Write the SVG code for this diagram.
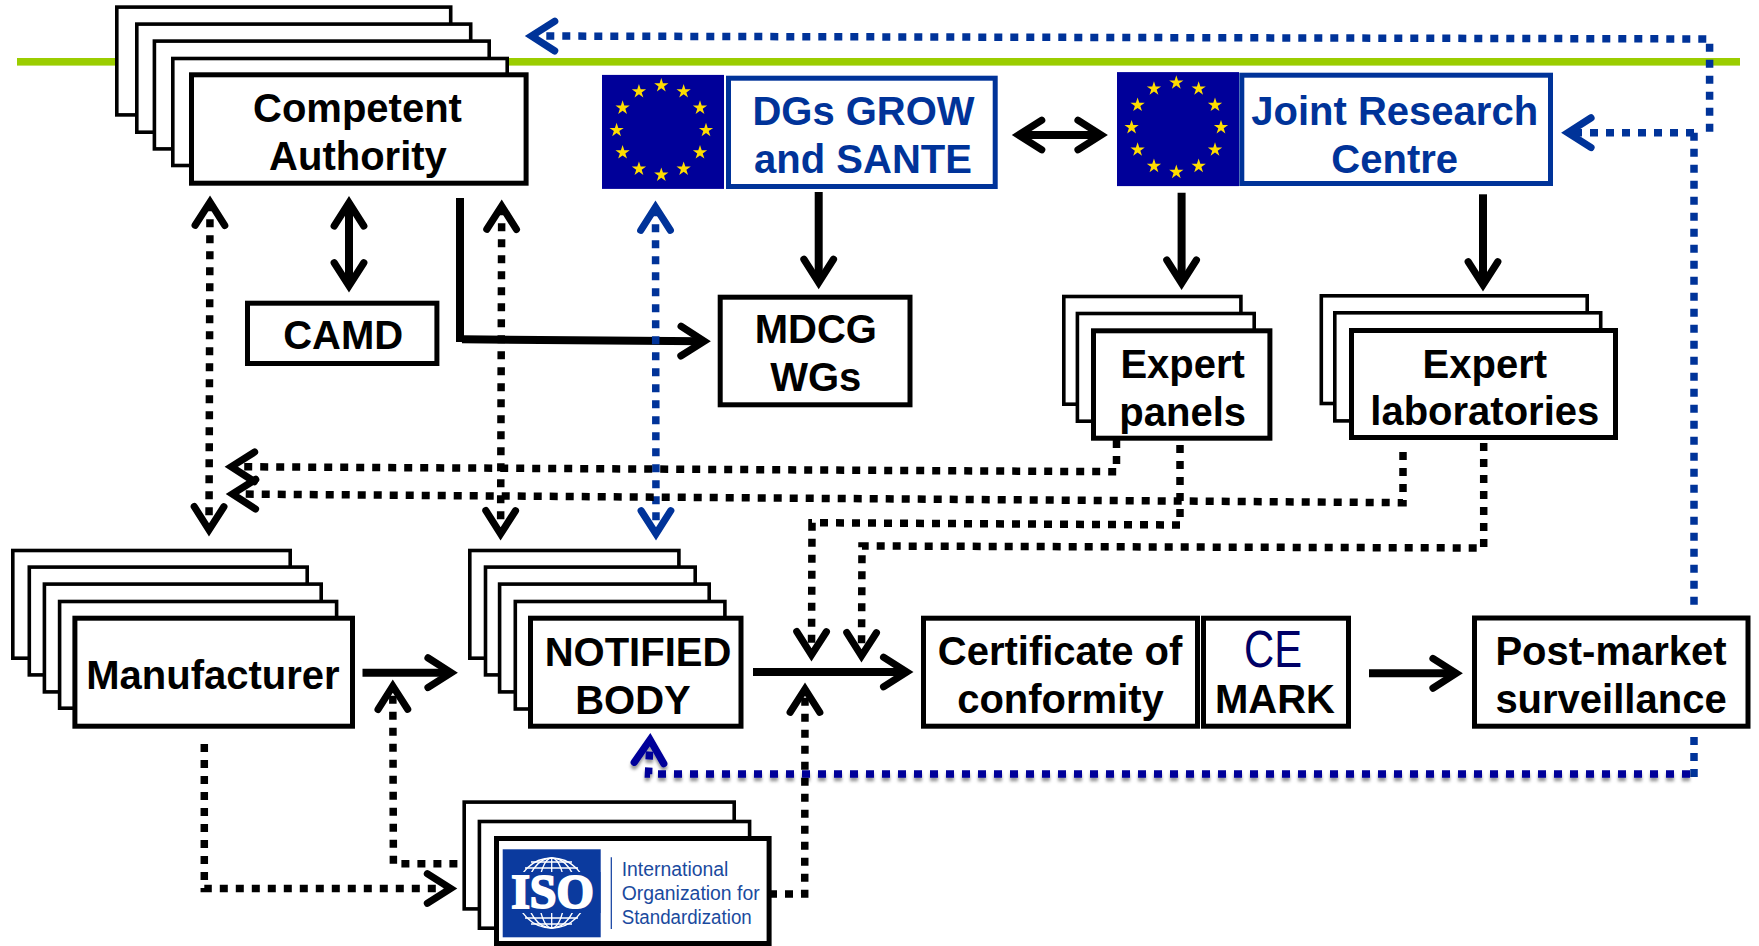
<svg xmlns="http://www.w3.org/2000/svg" width="1759" height="946" viewBox="0 0 1759 946">
<style>
.b{fill:#fff;stroke:#000;stroke-width:3.6}
.f{fill:#fff;stroke:#000;stroke-width:5}
.e{fill:#fff;stroke:#003399;stroke-width:5}
.t{font:bold 40px "Liberation Sans",Arial,sans-serif;fill:#000;text-anchor:middle}
.tb{fill:#003399}
.iso{font:19.4px "Liberation Sans",Arial,sans-serif;fill:#1a4a9e}
.c{fill:none;stroke-linejoin:miter}
.sk{stroke:#000;stroke-width:8}
.sb{stroke:#000;stroke-width:7.5;stroke-dasharray:8 8}
.sn{stroke:#003399;stroke-width:7.5;stroke-dasharray:8 8}
.sv{stroke:#000099;stroke-width:7.5;stroke-dasharray:8 8}
.ak{marker-end:url(#hk)}
.akk{marker-start:url(#hk);marker-end:url(#hk)}
.ann{marker-start:url(#hn);marker-end:url(#hn)}
.an{marker-end:url(#hn)}
.av{marker-end:url(#hv)}
</style>
<defs>
<marker id="hk" markerUnits="userSpaceOnUse" viewBox="-40 -20 44 40" markerWidth="44" markerHeight="40" refX="-8" refY="0" orient="auto-start-reverse"><path d="M-30,-14.8 L-6.8,0 L-30,14.8" fill="none" stroke="#000" stroke-width="7.2" stroke-linecap="round"/></marker>
<marker id="hn" markerUnits="userSpaceOnUse" viewBox="-40 -20 44 40" markerWidth="44" markerHeight="40" refX="-8" refY="0" orient="auto-start-reverse"><path d="M-30,-14.8 L-6.8,0 L-30,14.8" fill="none" stroke="#003399" stroke-width="7.2" stroke-linecap="round"/></marker>
<marker id="hv" markerUnits="userSpaceOnUse" viewBox="-40 -20 44 40" markerWidth="44" markerHeight="40" refX="-8" refY="0" orient="auto-start-reverse"><path d="M-30,-14.8 L-6.8,0 L-30,14.8" fill="none" stroke="#000099" stroke-width="7.2" stroke-linecap="round"/></marker>
<filter id="sh" filterUnits="userSpaceOnUse" x="0" y="0" width="1759" height="946"><feDropShadow dx="0" dy="3.5" stdDeviation="1.6" flood-color="#000" flood-opacity=".4"/></filter>
<polygon id="s" fill="#ffdd00" points="0,-7.5 1.69,-2.32 7.13,-2.32 2.73,.89 4.41,6.07 0,2.87 -4.41,6.07 -2.73,.89 -7.13,-2.32 -1.69,-2.32"/>
<g id="flag">
<rect x="-59.3" y="-55.3" width="122" height="114" fill="#000099"/>
<use href="#s" x="0" y="-44.7"/><use href="#s" x="22.35" y="-38.7"/><use href="#s" x="38.7" y="-22.35"/><use href="#s" x="44.7" y="0"/><use href="#s" x="38.7" y="22.35"/><use href="#s" x="22.35" y="38.7"/><use href="#s" x="0" y="44.7"/><use href="#s" x="-22.35" y="38.7"/><use href="#s" x="-38.7" y="22.35"/><use href="#s" x="-44.7" y="0"/><use href="#s" x="-38.7" y="-22.35"/><use href="#s" x="-22.35" y="-38.7"/>
</g>
</defs>

<rect id="green-line" x="17" y="58" width="1723" height="7.6" fill="#9bcd00"/>

<g id="connectors" class="c">
<path class="sk ak" d="M818.7,192 V281.3"/>
<path class="sk ak" d="M1181.6,192.7 V282"/>
<path class="sk ak" d="M1483,194.3 V283.7"/>
<path class="sk akk" d="M1019.7,135 H1100"/>
<path class="sk akk" d="M349,204 V284.7"/>
<path class="sk" d="M460,198 V342"/>
<path class="sk ak" d="M462,339.3 L703,341.3"/>
<path class="sk ak" d="M362.5,672.7 H450"/>
<path class="sk ak" d="M753,672 H905.6"/>
<path class="sk ak" d="M1369,673.3 H1455"/>

<path class="sb akk" d="M210,203.3 L209,528.7"/>
<path class="sb akk" d="M501.7,207.3 L500.6,532.7"/>
<path class="sn ann" d="M655.5,208.3 L656,532.7"/>
<path class="sb ak" d="M1116.5,440 V471.7 L232.5,466.7"/>
<path class="sb ak" d="M1403,452 V502.7 L233.6,494"/>
<path class="sb ak" d="M1180,445 V525 L812,522.7 L811.5,653.7"/>
<path class="sb ak" d="M1483.7,443 V548 L862,546 L861.5,654.7"/>
<path class="sb ak" d="M204.3,744 V888.5 H449.4"/>
<path class="sb ak" d="M457.4,863.7 H393.4 L392.8,687.3"/>
<path class="sb ak" d="M769,894 H804.7 L805,690.3"/>

<path class="sn an" d="M1709.6,131.7 V39 L532.7,36"/>
<path class="sn an" d="M1694,132.7 H1569"/>
<path class="sn" d="M1694,132.7 V612"/>
<path class="sn" d="M1694,737 V777"/>
<path class="sv av" filter="url(#sh)" d="M1690,774 H648.5 L650,741"/>
</g>

<g id="competent-authority">
<rect class="b" x="116.8" y="7.1" width="333.9" height="107.8"/>
<rect class="b" x="136.8" y="24.1" width="333.9" height="108.1"/>
<rect class="b" x="154.4" y="41.1" width="334.8" height="107.8"/>
<rect class="b" x="172.8" y="58.5" width="334.4" height="107"/>
<rect class="f" x="191.5" y="74.8" width="334.6" height="108.4"/>
<text class="t" x="357.5" y="121.7">Competent</text>
<text class="t" x="358" y="170.3">Authority</text>
</g>

<g id="camd"><rect class="f" x="247.5" y="303.2" width="189.4" height="60.3"/><text class="t" x="343.2" y="349.3">CAMD</text></g>

<g id="dgs">
<use href="#flag" x="661.3" y="130.2"/>
<rect class="e" x="728.5" y="78.2" width="266.7" height="108.3"/>
<text class="t tb" x="863.5" y="125.3">DGs GROW</text>
<text class="t tb" x="863" y="173.3">and SANTE</text>
</g>

<g id="jrc">
<use href="#flag" x="1176.3" y="127.4"/>
<rect class="e" x="1241.8" y="75.2" width="308.7" height="108.3"/>
<text class="t tb" x="1394.7" y="125">Joint Research</text>
<text class="t tb" x="1394.7" y="172.7">Centre</text>
</g>

<g id="mdcg"><rect class="f" x="720.2" y="297.2" width="189.8" height="107.6"/><text class="t" x="815.8" y="343.3">MDCG</text><text class="t" x="815.8" y="391">WGs</text></g>

<g id="expert-panels">
<rect class="b" x="1063.8" y="296.5" width="177.1" height="107.7"/>
<rect class="b" x="1077.4" y="313.5" width="176.8" height="107.7"/>
<rect class="f" x="1093.5" y="330.8" width="176.4" height="107.4"/>
<text class="t" x="1182.7" y="378">Expert</text><text class="t" x="1182.7" y="426">panels</text>
</g>

<g id="expert-laboratories">
<rect class="b" x="1321.3" y="295.8" width="265.9" height="107.7"/>
<rect class="b" x="1334.8" y="312.8" width="265.9" height="108.1"/>
<rect class="f" x="1351.5" y="330.5" width="264" height="107"/>
<text class="t" x="1484.8" y="377.7">Expert</text><text class="t" x="1484.8" y="425.3">laboratories</text>
</g>

<g id="manufacturer">
<rect class="b" x="12.8" y="550.5" width="277.4" height="107.7"/>
<rect class="b" x="29.3" y="567.1" width="277.9" height="107.8"/>
<rect class="b" x="44.4" y="584.1" width="276.8" height="107.8"/>
<rect class="b" x="59.6" y="601.5" width="277" height="106.7"/>
<rect class="f" x="74.9" y="618.2" width="277.6" height="108"/>
<text class="t" x="213" y="689.3">Manufacturer</text>
</g>

<g id="notified-body">
<rect class="b" x="469.8" y="550.5" width="209.1" height="107.7"/>
<rect class="b" x="485.5" y="567.1" width="209.7" height="107.8"/>
<rect class="b" x="499.6" y="584.1" width="209.6" height="107.8"/>
<rect class="b" x="515.3" y="601.5" width="209.6" height="107.5"/>
<rect class="f" x="530.5" y="618.2" width="210.5" height="108"/>
<text class="t" x="638" y="666">NOTIFIED</text><text class="t" x="633" y="714.3">BODY</text>
</g>

<g id="certificate">
<rect class="f" x="923.5" y="618.2" width="274" height="108"/>
<text class="t" x="1060" y="665.3">Certificate of</text><text class="t" x="1060.5" y="713.3">conformity</text>
</g>

<g id="ce-mark">
<rect class="f" x="1203.5" y="618.2" width="145" height="108"/>
<text x="1244" y="667" font-family="'Liberation Sans',Arial,sans-serif" font-size="52" fill="#000066" textLength="58" lengthAdjust="spacingAndGlyphs">CE</text>
<text class="t" x="1275" y="713.3">MARK</text>
</g>

<g id="post-market">
<rect class="f" x="1474.5" y="618" width="273.5" height="108.2"/>
<text class="t" x="1611" y="665.3">Post-market</text><text class="t" x="1611" y="713.3">surveillance</text>
</g>

<g id="iso">
<rect class="b" x="464.2" y="802.1" width="270" height="106.8"/>
<rect class="b" x="479.4" y="821.5" width="270.2" height="106.7"/>
<rect class="f" x="496.5" y="838.5" width="272.6" height="105"/>
<rect x="502.7" y="849.3" width="98" height="88" fill="#0b3a9e"/>
<g fill="none" stroke="#fff" stroke-width="1.3">
<circle cx="551.7" cy="893" r="35"/><ellipse cx="551.7" cy="893" rx="13" ry="35"/><ellipse cx="551.7" cy="893" rx="25" ry="35"/><path d="M551.7,858 V928 M525,868 H578 M525,918 H578 M531,862 H572 M531,924 H572"/>
</g>
<rect x="503" y="872" width="97.5" height="41" fill="#0b3a9e"/>
<text x="552.5" y="908" font-family="'Liberation Serif','Times New Roman',serif" font-weight="bold" font-size="48" fill="#fff" stroke="#fff" stroke-width="2" text-anchor="middle">ISO</text>
<path d="M611.3,857.3 V929" stroke="#0b3a9e" stroke-width="1.2" fill="none"/>
<text class="iso" x="621.7" y="875.7" textLength="106.7" lengthAdjust="spacingAndGlyphs">International</text>
<text class="iso" x="621.7" y="900" textLength="138" lengthAdjust="spacingAndGlyphs">Organization for</text>
<text class="iso" x="621.7" y="924" textLength="130" lengthAdjust="spacingAndGlyphs">Standardization</text>
</g>
</svg>
